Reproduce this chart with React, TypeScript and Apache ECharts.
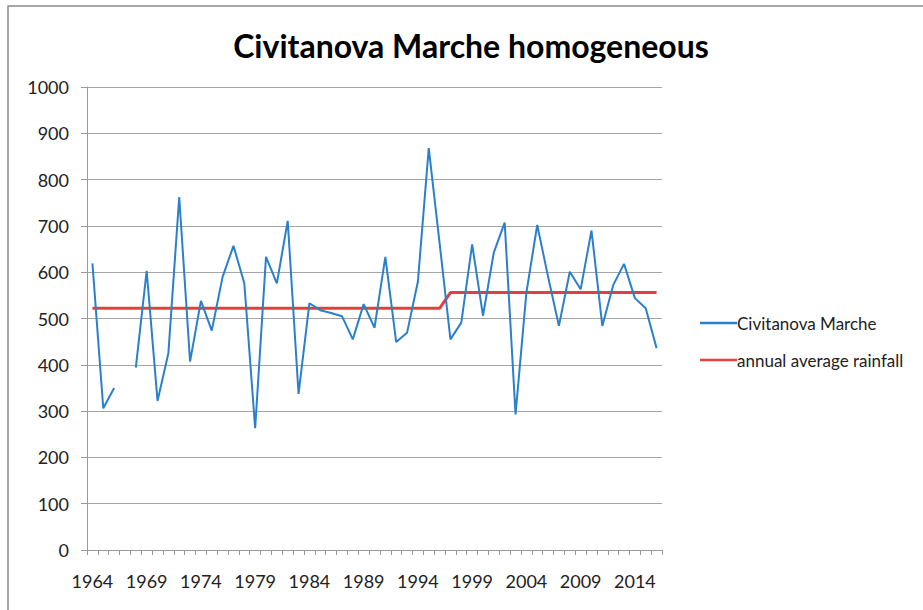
import React, { useEffect, useRef } from "react";
import * as echarts from "echarts";

const years: string[] = [];
for (let y = 1964; y <= 2016; y++) years.push(String(y));

const rainfall: (number | null)[] = [
  619, 306, 350, null, 394, 603, 322, 425, 762, 407,
  538, 474, 590, 657, 576, 263, 633, 576, 711, 337,
  533, 518, 512, 505, 455, 531, 480, 633, 449, 469,
  580, 868, 663, 455, 491, 660, 506, 643, 707, 293,
  556, 702, 590, 484, 601, 563, 690, 484, 572, 618,
  544, 522, 436,
];

const averageFirst = 522; // 1964-1996
const averageSecond = 556; // 1997-2016
const average: number[] = years.map((y) => (Number(y) <= 1996 ? averageFirst : averageSecond));

const seriesNames = ["Civitanova Marche", "annual average rainfall"];
const titleText = "Civitanova Marche homogeneous";

const FONT = "Lato, 'Open Sans', sans-serif";

export default function App() {
  const ref = useRef<HTMLDivElement>(null);
  useEffect(() => {
    if (!ref.current) return;
    const chart = echarts.init(ref.current, null, { renderer: "svg" });
    chart.setOption({
      animation: false,
      backgroundColor: "#ffffff",
      textStyle: { fontFamily: FONT },
      title: {
        text: titleText,
        left: 466,
        top: 24,
        textAlign: "center",
        textStyle: { fontFamily: FONT, fontWeight: "bold", fontSize: 32, color: "#000" },
      },
      graphic: [
        {
          type: "rect",
          shape: { x: 8, y: 6, width: 1200, height: 1200 },
          style: { fill: "none", stroke: "#8a8a8a", lineWidth: 1.5 },
          silent: true,
        },
      ],
      legend: {
        orient: "vertical",
        left: 695,
        top: 308,
        icon: "rect",
        itemWidth: 37,
        itemHeight: 2.5,
        itemGap: 17,
        textStyle: { fontFamily: FONT, fontSize: 17, color: "#222", lineHeight: 20, padding: [0, 0, 0, -5] },
        data: seriesNames,
      },
      grid: { left: 87, right: 261, top: 87, bottom: 60, containLabel: false },
      xAxis: {
        type: "category",
        data: years,
        boundaryGap: true,
        axisLine: { lineStyle: { color: "#9a9a9a", width: 1 } },
        axisTick: { show: true, interval: 0, length: 5, lineStyle: { color: "#9a9a9a" } },
        axisLabel: { interval: 4, margin: 22, fontSize: 18, color: "#222", fontFamily: FONT },
        splitLine: { show: false },
      },
      yAxis: {
        type: "value",
        min: 0,
        max: 1000,
        interval: 100,
        axisLine: { show: true, lineStyle: { color: "#9a9a9a", width: 1 } },
        axisTick: { show: true, length: 6, lineStyle: { color: "#9a9a9a" } },
        axisLabel: {
          margin: 18,
          fontSize: 18,
          color: "#222",
          fontFamily: FONT,
          formatter: (v: number) => String(v),
        },
        splitLine: { show: true, lineStyle: { color: "#a6a6a6", width: 1 } },
      },
      series: [
        {
          name: seriesNames[0],
          type: "line",
          data: rainfall,
          showSymbol: false,
          symbol: "none",
          connectNulls: false,
          lineStyle: { color: "#2a80cc", width: 2 },
          itemStyle: { color: "#2a80cc" },
          z: 3,
        },
        {
          name: seriesNames[1],
          type: "line",
          data: average,
          showSymbol: false,
          symbol: "none",
          lineStyle: { color: "#e2403a", width: 3 },
          itemStyle: { color: "#e2403a" },
          z: 2,
        },
      ],
    });
    return () => chart.dispose();
  }, []);
  return (
    <div
      ref={ref}
      style={{ position: "fixed", left: 0, top: 0, width: 923, height: 610, background: "#fff" }}
    />
  );
}
